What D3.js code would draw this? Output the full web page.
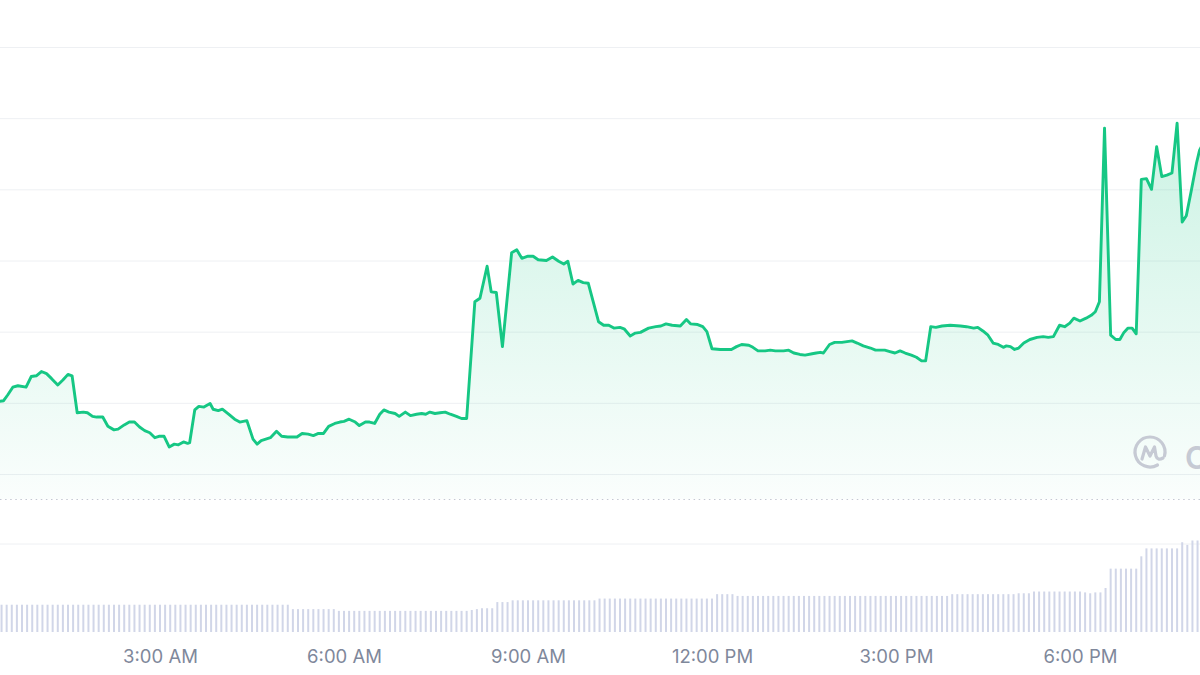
<!DOCTYPE html>
<html><head><meta charset="utf-8">
<script src="https://cdn.jsdelivr.net/npm/d3@7"></script>
<style>html,body{margin:0;padding:0;background:#fff;} svg{display:block;}</style>
</head><body>
<svg id="chart" width="1200" height="675"></svg>
<script>
// ---------- DATA ----------
const priceTimes = [
"0:23","0:27","0:31","0:36","0:41","0:49","0:54","0:59","1:04","1:09","1:14","1:20","1:25","1:30","1:34",
"1:39","1:45","1:49","1:54","1:58","2:04","2:09","2:15","2:19","2:25","2:30","2:35","2:40","2:45","2:50",
"2:55","2:59","3:04","3:09","3:14","3:18","3:23","3:27","3:29","3:34","3:38","3:43","3:49","3:52","3:57",
"4:01","4:08","4:13","4:18","4:25","4:31","4:35","4:39","4:48","4:54","4:59","5:05","5:14","5:19","5:25",
"5:30","5:35","5:40","5:45","5:51","5:56","6:00","6:05","6:11","6:15","6:21","6:25","6:30","6:35","6:39",
"6:44","6:50","6:54","7:00","7:05","7:11","7:16","7:20","7:24","7:29","7:34","7:39","7:44","7:50","7:55",
"8:00","8:08","8:13","8:20","8:24","8:29","8:35","8:44","8:49","8:54","9:00","9:05","9:10","9:18","9:24",
"9:30","9:35","9:39","9:44","9:49","9:54","9:59","10:09","10:14","10:19","10:24","10:30","10:34","10:40","10:45",
"10:50","10:58","11:05","11:10","11:15","11:21","11:29","11:35","11:39","11:46","11:51","11:55","12:00","12:08","12:19",
"12:24","12:29","12:36","12:40","12:45","12:52","12:57","13:02","13:10","13:15","13:20","13:26","13:31","13:38","13:42",
"13:46","13:49","13:55","14:00","14:07","14:12","14:17","14:22","14:28","14:35","14:40","14:44","14:49","14:54","14:59",
"15:04","15:09","15:15","15:20","15:25","15:29","15:34","15:39","15:45","15:53","16:03","16:09","16:16","16:20","16:25",
"16:30","16:35","16:40","16:45","16:48","16:52","16:56","17:00","17:05","17:11","17:18","17:24","17:29","17:34","17:40",
"17:45","17:50","17:54","18:00","18:06","18:11","18:15","18:19","18:24","18:30","18:35","18:39","18:43","18:47","18:51",
"18:55","19:00","19:05","19:10","19:15","19:20","19:25","19:30","19:35","19:40","19:44","19:49","19:54","19:57","20:02"
];
const priceValues = [
20.2,20.3,21.1,22.2,22.4,22.2,23.7,23.8,24.4,24.1,23.4,22.5,23.2,24.0,23.8,
18.6,18.7,18.6,18.1,18.0,18.0,16.7,16.2,16.3,16.9,17.3,17.3,16.6,16.1,15.8,
15.1,15.3,15.3,13.8,14.2,14.1,14.5,14.3,14.4,19.0,19.5,19.4,19.9,19.1,18.9,
19.1,18.3,17.7,17.3,17.5,14.9,14.2,14.7,15.1,16.0,15.3,15.2,15.2,15.7,15.6,
15.4,15.7,15.7,16.7,17.1,17.3,17.4,17.7,17.3,16.8,17.3,17.3,17.1,18.4,19.0,
18.7,18.5,18.1,18.7,18.2,18.4,18.5,18.4,18.7,18.5,18.6,18.7,18.4,18.1,17.8,
17.8,34.2,34.7,39.2,35.6,35.5,27.9,41.1,41.5,40.3,40.6,40.6,40.1,40.0,40.5,
39.9,39.5,39.9,36.7,37.2,36.9,36.8,31.4,30.9,30.9,30.5,30.6,30.4,29.4,29.8,
29.9,30.5,30.7,30.8,31.1,30.9,30.8,31.7,31.1,31.0,30.7,30.0,27.6,27.5,27.5,
27.9,28.2,28.1,27.8,27.3,27.3,27.4,27.3,27.3,27.4,27.0,26.8,26.7,26.9,27.0,
27.1,27.0,28.2,28.5,28.5,28.6,28.7,28.4,28.0,27.7,27.4,27.4,27.4,27.2,27.0,
27.3,27.0,26.7,26.4,25.9,25.9,30.7,30.6,30.8,30.9,30.8,30.7,30.5,30.6,30.1,
29.5,28.4,28.2,27.8,28.0,27.9,27.5,27.7,28.4,28.9,29.2,29.3,29.2,29.3,30.9,
30.7,31.2,31.9,31.5,31.9,32.3,32.8,34.2,58.6,29.5,28.9,28.9,29.9,30.5,30.5,
29.7,51.4,51.5,50.0,56.0,51.8,52.0,52.3,59.3,45.4,46.3,49.9,53.7,55.5,56.9
];
// volume: one bar every 5 minutes starting at 00:25
const volumeStart = "0:25";
const volumeStepMinutes = 5;
const volumeValues = [
31,31,31,31,31,31,31,31,31,31, 31,31,31,31,31,31,31,31,31,31,
31,31,31,31,31,31,31,31,31,31, 31,31,31,31,31,31,31,31,31,31,
31,31,31,31,31,31,31,31,31,31, 31,31,31,31,31,31,31,
26,26,26,26,26,26,26,26,26,
24,24,24,24,24,24,24,24,24,24, 24,24,24,24,24,24,24,24,24,24, 24,24,24,24,24,24,
25,26,27,27,27,
34,34,34,
36,36,36,36,36,36,36,36,36,36, 36,36,36,36,36,36,36,
38,38,38,38,38,38,38,38,38,38, 38,38,38,38,38,38,38,38,38,38, 38,38,38,
43,43,43,43,
41,41,41,41,41,41,41,41,41,41, 41,41,41,41,41,41,41,41,41,41,
41,41,41,41,41,41,41,41,41,41, 41,41,41,41,41,41,41,41,41,41, 41,41,
43,43,43,43,43,43,43,43,43,43, 43,43,43,
44,44,44,
46,46,46,46,46,46,46,46,46,46,
45,44,45,45,
50,
72,72,72,72,72,72,
86,
95,95,95,95,95,95,95,
102,99,104,104
];
const priceGridTicks = [10,20,30,40,50,60,70];
const timeTickLabels = ["3:00","6:00","9:00","12:00","15:00","18:00"];
const viewStart = "0:23:29", viewEnd = "19:57:24";

// ---------- CHART ----------
const W = 1200, H = 675;
const plotBottom = 499, volBottom = 632;
const day = "2024-05-01 ";
const parseHM = d3.timeParse("%Y-%m-%d %H:%M");
const parseHMS = d3.timeParse("%Y-%m-%d %H:%M:%S");

const x = d3.scaleTime().domain([parseHMS(day+viewStart), parseHMS(day+viewEnd)]).range([0, W]);
const y = d3.scaleLinear().domain([10, 70]).range([474, 47]);
const vy = d3.scaleLinear().domain([0, 100]).range([volBottom, 544]);

const svg = d3.select("#chart");
const defs = svg.append("defs");
defs.append("clipPath").attr("id","clip").append("rect").attr("x",0).attr("y",0).attr("width",W).attr("height",H);
const grad = defs.append("linearGradient").attr("id","areaGrad")
  .attr("gradientUnits","userSpaceOnUse").attr("x1",0).attr("y1",120).attr("x2",0).attr("y2",plotBottom);
grad.append("stop").attr("offset","0%").attr("stop-color","#16c784").attr("stop-opacity",0.22);
grad.append("stop").attr("offset","100%").attr("stop-color","#16c784").attr("stop-opacity",0.02);

// grid
const gridAxis = d3.axisRight(y).tickValues(priceGridTicks).tickSize(W).tickFormat("");
const gg = svg.append("g").call(gridAxis);
gg.select(".domain").remove();
gg.selectAll("line").attr("stroke","#eef0f3").attr("stroke-width",1);
svg.append("line").attr("x1",0).attr("x2",W).attr("y1",vy(100)).attr("y2",vy(100))
  .attr("stroke","#eef0f3").attr("stroke-width",1);

// dotted baseline
svg.append("line").attr("x1",0).attr("x2",W).attr("y1",plotBottom+0.5).attr("y2",plotBottom+0.5)
  .attr("stroke","#c3c8d2").attr("stroke-width",1).attr("stroke-dasharray","1.5,3.6");

// volume bars
const vStart = parseHM(day + volumeStart);
const volData = volumeValues.map((v,i) => ({t: d3.timeMinute.offset(vStart, i*volumeStepMinutes), v}));
svg.append("g").attr("clip-path","url(#clip)").selectAll("rect").data(volData).join("rect")
  .attr("x", d => x(d.t) - 1).attr("width", 2)
  .attr("y", d => vy(d.v)).attr("height", d => vy(0) - vy(d.v))
  .attr("fill", "#d1d6e8");

// price
const priceData = priceTimes.map((t,i) => ({t: parseHM(day + t), v: priceValues[i]}));
const area = d3.area().x(d => x(d.t)).y0(plotBottom).y1(d => y(d.v));
const line = d3.line().x(d => x(d.t)).y(d => y(d.v));
const pg = svg.append("g").attr("clip-path","url(#clip)");
pg.append("path").datum(priceData).attr("d", area).attr("fill","url(#areaGrad)");

// watermark (CoinMarketCap logo, cropped at the right edge as in the source)
const wm = svg.append("g").attr("transform","translate(1150,452)");
wm.append("path").attr("d","M 7.5,13 A 15 15 0 1 1 14.5,3.9")
  .attr("fill","none").attr("stroke","#c6cad4").attr("stroke-width",3.2).attr("stroke-linecap","round");
wm.append("path").attr("d","M -8,7 L -4.5,-5 L 0,4 L 4.5,-5 L 6,4 Q 7.5,9 13,6")
  .attr("fill","none").attr("stroke","#c6cad4").attr("stroke-width",3.2).attr("stroke-linecap","round").attr("stroke-linejoin","round");
svg.append("text").attr("x",1185).attr("y",469).text("CoinMarketCap")
  .attr("font-family","Inter, 'Open Sans', sans-serif").attr("font-size",31).attr("font-weight",600).attr("fill","#c6cad4");

pg.append("path").datum(priceData).attr("d", line).attr("fill","none")
  .attr("stroke","#16c784").attr("stroke-width",2.9).attr("stroke-linejoin","round").attr("stroke-linecap","round");

// x axis
const xAxis = d3.axisBottom(x).tickValues(timeTickLabels.map(s => parseHM(day + s)))
  .tickSize(0).tickFormat(d3.timeFormat("%-I:%M %p"));
const xg = svg.append("g").attr("transform",`translate(0,${volBottom})`).call(xAxis);
xg.select(".domain").remove();
xg.attr("font-family","Inter, 'Open Sans', sans-serif").attr("font-size",18.5);
xg.selectAll("text").attr("y",31).attr("dy","0").attr("fill","#7f889b");
</script>
</body></html>
